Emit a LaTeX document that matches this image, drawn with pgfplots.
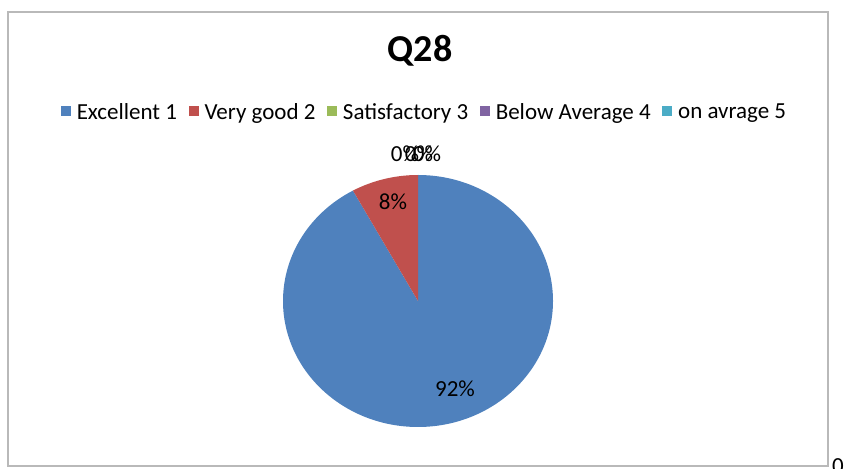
\documentclass[border=0pt]{standalone}
\usepackage{pgfplots}
\pgfplotsset{compat=1.18}
\usepackage{pgfplotstable}
\usepackage{fontspec}
\setmainfont{Carlito}

\definecolor{xblue}{HTML}{4F81BD}
\definecolor{xred}{HTML}{C0504D}
\definecolor{xgreen}{HTML}{9BBB59}
\definecolor{xpurple}{HTML}{8064A2}
\definecolor{xcyan}{HTML}{4BACC6}

% share of answers, in percent
\pgfplotstableread{
cat pct
1 92
2 8
3 0
4 0
5 0
}\piedata

\begin{document}
\begin{tikzpicture}
\pgfplotstablegetelem{0}{pct}\of\piedata \edef\pA{\pgfplotsretval}
\pgfplotstablegetelem{1}{pct}\of\piedata \edef\pB{\pgfplotsretval}
% slices run clockwise from 12 o'clock
\pgfmathsetmacro\aA{90-3.6*\pA}
\pgfmathsetmacro\aB{\aA-3.6*\pB}
\useasboundingbox (0,0) rectangle (845bp,469bp);
\begin{axis}[
    at={(0,0)}, anchor=south west,
    scale only axis, width=845bp, height=469bp,
    xmin=0, xmax=845, ymin=0, ymax=469,
    hide axis, clip=false,
    legend columns=-1,
    legend style={draw=none, fill=none, at={(0.502,0.761)}, anchor=center,
        font=\fontsize{23bp}{26bp}\selectfont,
        nodes={inner xsep=1.5bp},
        /tikz/every odd column/.append style={column sep=4.5bp},
        /tikz/every even column/.append style={column sep=10bp}},
    legend image code/.code={\fill[#1] (0bp,-4bp) rectangle (10bp,6bp);},
]
% chart frame
\draw[gray!55, line width=1.5bp] (axis cs:8,3) rectangle (axis cs:828,457);

% pie
\fill[xblue] (axis cs:418,168) -- ++(90:135bp and 126bp)
    arc[start angle=90, end angle=\aA, x radius=135bp, y radius=126bp] -- cycle;
\fill[xred] (axis cs:418,168) -- ++(\aA:135bp and 126bp)
    arc[start angle=\aA, end angle=\aB, x radius=135bp, y radius=126bp] -- cycle;

\addlegendimage{fill=xblue, draw=none}\addlegendentry{Excellent 1}
\addlegendimage{fill=xred, draw=none}\addlegendentry{Very good 2}
\addlegendimage{fill=xgreen, draw=none}\addlegendentry{Satisfactory 3}
\addlegendimage{fill=xpurple, draw=none}\addlegendentry{Below Average 4}
\addlegendimage{fill=xcyan, draw=none}\addlegendentry{on avrage 5}

% title and data labels
\node[font=\fontsize{38bp}{40bp}\selectfont\bfseries, anchor=base] at (axis cs:420,407) {Q28};
\begin{scope}[font=\fontsize{23bp}{26bp}\selectfont]
\node[anchor=base] at (axis cs:393,259) {8\%};
\node[anchor=base] at (axis cs:455,72) {92\%};
\node[anchor=base] at (axis cs:405,307) {0\%};
\node[anchor=base] at (axis cs:419,307) {0\%};
\node[anchor=base] at (axis cs:427,307) {0\%};
\node[anchor=north west, inner sep=0pt] at (axis cs:832,11) {0};
\end{scope}
\end{axis}
\end{tikzpicture}
\end{document}
